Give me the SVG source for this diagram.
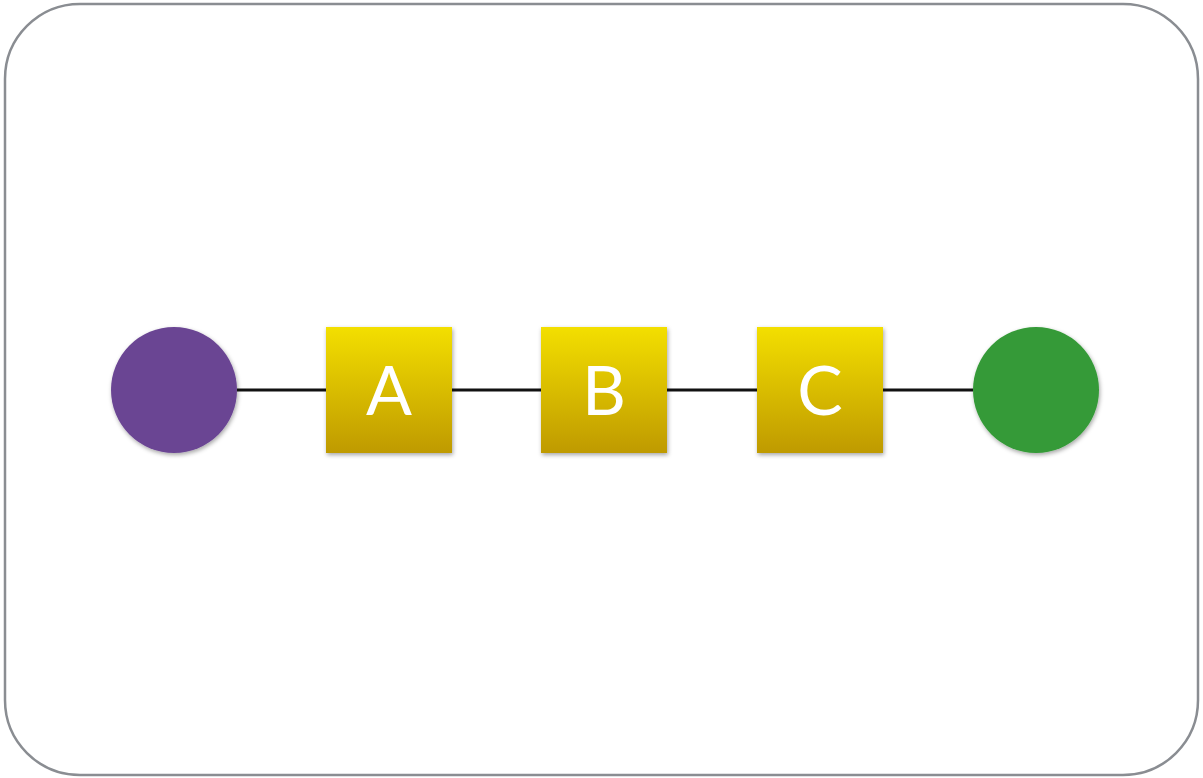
<svg xmlns="http://www.w3.org/2000/svg" width="1203" height="778" viewBox="0 0 1203 778">
<style>
.lbl{font-family:Lato,"Open Sans","Liberation Sans",sans-serif;font-size:68px;fill:#ffffff;text-anchor:middle}
.edge{stroke:#111;stroke-width:3;fill:none}
</style>
<defs>
<linearGradient id="gold" x1="0" y1="0" x2="0" y2="1">
<stop offset="0" stop-color="#f3df00"/>
<stop offset="1" stop-color="#bf9a00"/>
</linearGradient>
<filter id="sh" x="-20%" y="-20%" width="140%" height="140%">
<feDropShadow dx="1" dy="2" stdDeviation="2" flood-color="#000" flood-opacity="0.35"/>
</filter>
</defs>
<rect x="5" y="4" width="1193" height="771" rx="75" ry="75" fill="#ffffff" stroke="#8a8d92" stroke-width="2.5"/>
<g id="edges">
<line class="edge" x1="237" y1="390" x2="326" y2="390"/>
<line class="edge" x1="452" y1="390" x2="541" y2="390"/>
<line class="edge" x1="667" y1="390" x2="757" y2="390"/>
<line class="edge" x1="883" y1="390" x2="973" y2="390"/>
</g>
<g id="start"><circle cx="174" cy="390" r="63" fill="#6a4593" filter="url(#sh)"/></g>
<g id="A"><rect x="326" y="327" width="126" height="126" fill="url(#gold)" filter="url(#sh)"/><text class="lbl" x="389" y="415">A</text></g>
<g id="B"><rect x="541" y="327" width="126" height="126" fill="url(#gold)" filter="url(#sh)"/><text class="lbl" x="604" y="415">B</text></g>
<g id="C"><rect x="757" y="327" width="126" height="126" fill="url(#gold)" filter="url(#sh)"/><text class="lbl" x="820" y="415">C</text></g>
<g id="end"><circle cx="1036" cy="390" r="63" fill="#349a37" filter="url(#sh)"/></g>
</svg>
